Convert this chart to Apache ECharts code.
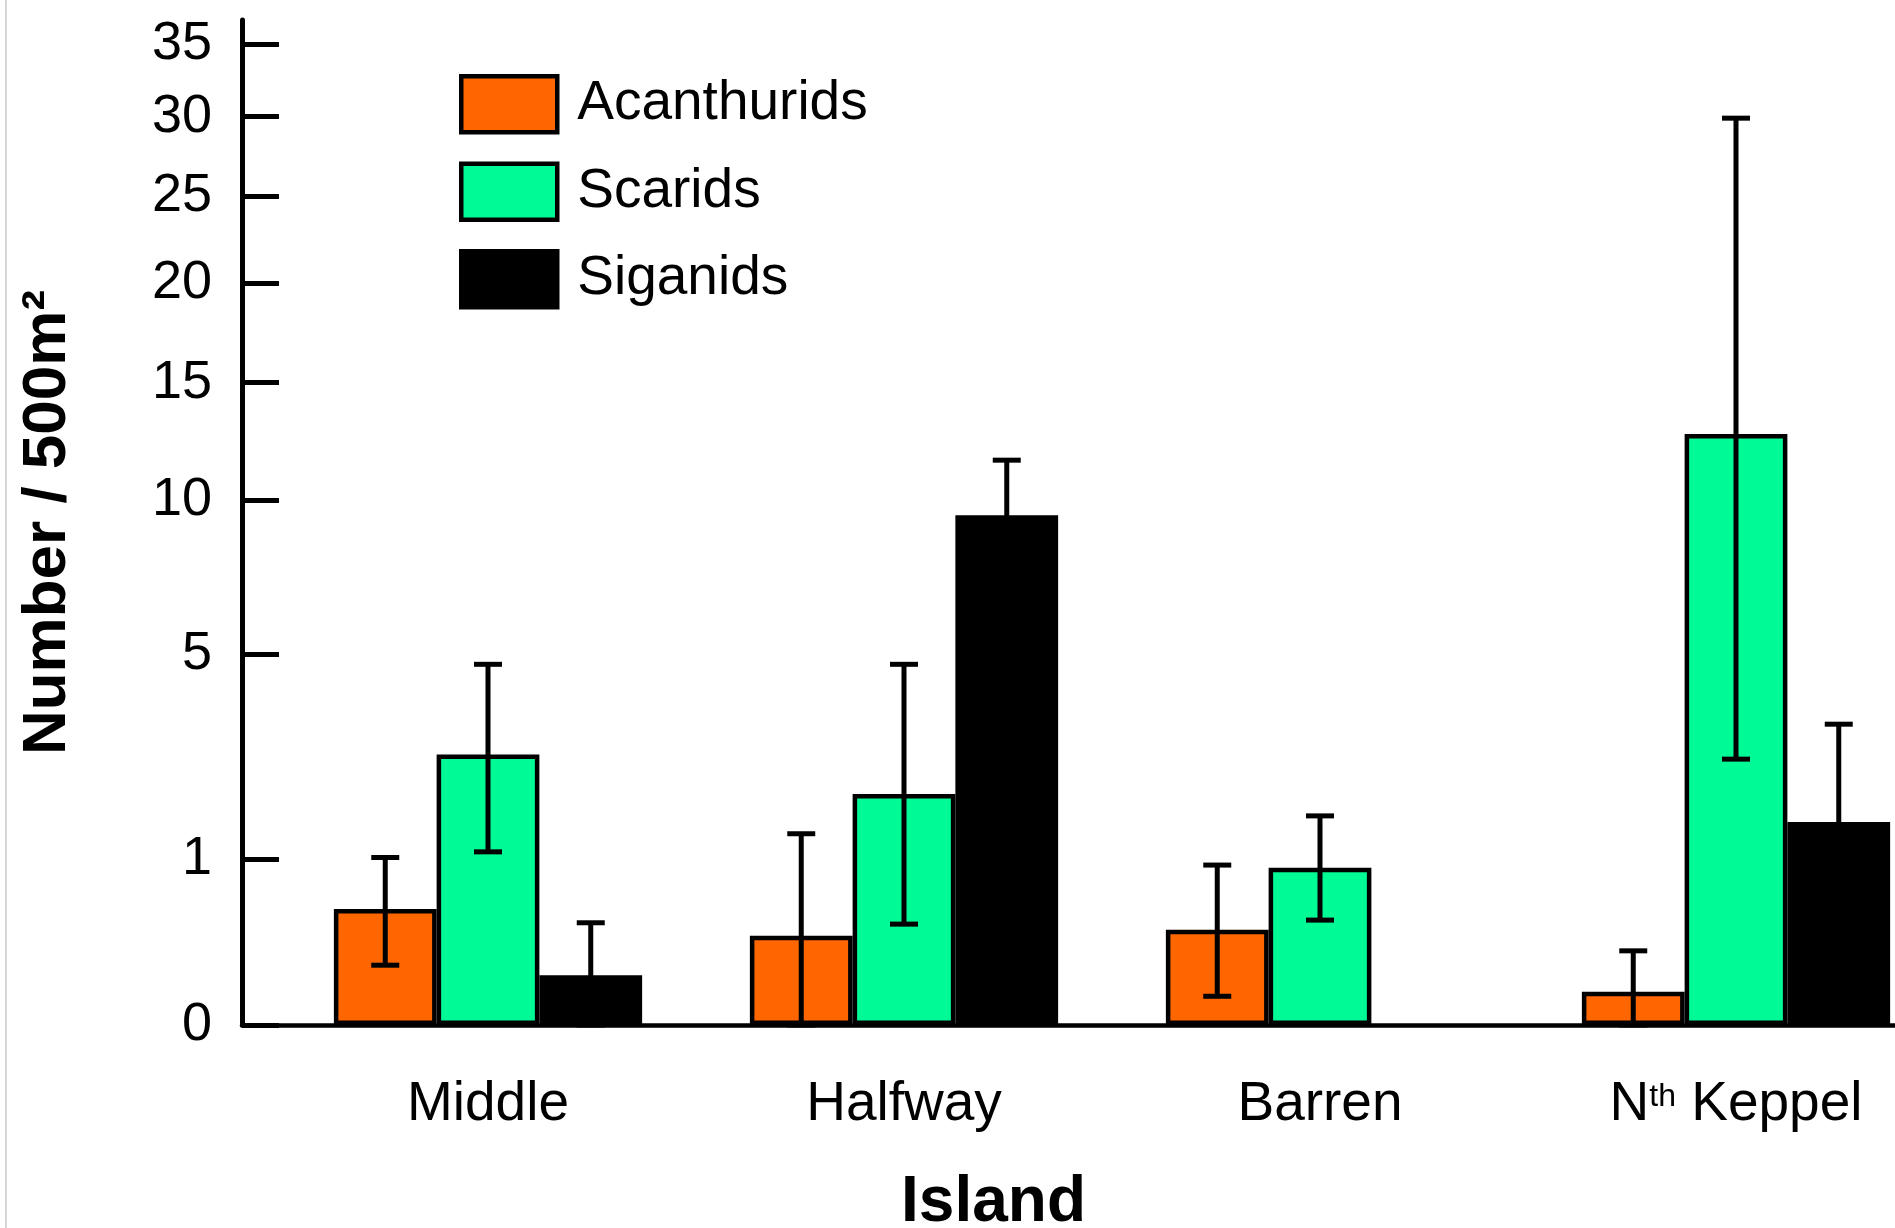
<!DOCTYPE html>
<html>
<head>
<meta charset="utf-8">
<script src="https://cdn.jsdelivr.net/npm/echarts@6/dist/echarts.min.js"></script>
<style>
html,body{margin:0;padding:0;background:#fff;}
#chart{width:1895px;height:1228px;}
</style>
</head>
<body>
<div id="chart"></div>
<script>
// ---- data (raw units, Number / 500m^2) ----
var islands = ['Middle', 'Halfway', 'Barren', 'Nth Keppel'];
var seriesNames = ['Acanthurids', 'Scarids', 'Siganids'];
var acanthurids   = [0.49, 0.29, 0.33, 0.04];
var acanthuridsHi = [1.02, 1.33, 0.93, 0.20];
var acanthuridsLo = [0.13, 0.00, 0.03, 0.00];
var scarids       = [2.66, 1.94, 0.90, 12.7];
var scaridsHi     = [4.73, 4.73, 1.59, 29.9];
var scaridsLo     = [1.09, 0.37, 0.40, 2.57];
var siganids      = [0.09, 9.45, 0, 1.50];
var siganidsHi    = [0.38, 11.6, null, 3.29];
var siganidsLo    = [0.00, 7.5, null, 0.41];
var yTicks = [0, 1, 5, 10, 15, 20, 25, 30, 35];
var colors = ['#ff6600', '#00fa96', '#000000'];

// square-root scale transform
function tr(v) { return v == null ? null : Math.sqrt(v); }
var Y_MAX = 6.06;
var FONT = '"Liberation Sans", Arial, Helvetica, sans-serif';
var GAP = 0.259;

var means = [acanthurids, scarids, siganids];
var his = [acanthuridsHi, scaridsHi, siganidsHi];
var los = [acanthuridsLo, scaridsLo, siganidsLo];

var series = [];
means.forEach(function (m, k) {
  series.push({
    name: seriesNames[k],
    type: 'bar',
    xAxisIndex: 0, yAxisIndex: 0,
    barGap: '0%',
    barCategoryGap: (GAP * 100) + '%',
    itemStyle: { color: colors[k], borderColor: '#000', borderWidth: 4.5 },
    data: m.map(function (v) {
      return v === 0 ? { value: 0, itemStyle: { borderWidth: 0 } } : tr(v);
    }),
    z: 2
  });
});
means.forEach(function (m, k) {
  var d = [];
  for (var i = 0; i < islands.length; i++) {
    if (his[k][i] != null) d.push([i, tr(los[k][i]), tr(his[k][i])]);
  }
  series.push({
    name: 'err' + k,
    type: 'custom',
    xAxisIndex: 0, yAxisIndex: 0,
    z: 5,
    renderItem: function (params, api) {
      var idx = api.value(0);
      var lo = api.coord([idx, api.value(1)]);
      var hi = api.coord([idx, api.value(2)]);
      var band = api.size([1, 0])[0];
      var bw = band * (1 - GAP) / 3;
      var x = lo[0] + (k - 1) * bw;
      var cap = 14;
      var st = { stroke: '#000', lineWidth: 5 };
      return {
        type: 'group',
        children: [
          { type: 'line', shape: { x1: x, y1: lo[1], x2: x, y2: hi[1] }, style: st },
          { type: 'line', shape: { x1: x - cap, y1: hi[1], x2: x + cap, y2: hi[1] }, style: st },
          { type: 'line', shape: { x1: x - cap, y1: lo[1], x2: x + cap, y2: lo[1] }, style: st }
        ]
      };
    },
    data: d
  });
});

var chart = echarts.init(document.getElementById('chart'));
chart.setOption({
  backgroundColor: '#fff',
  animation: false,
  textStyle: { fontFamily: FONT, color: '#000' },
  graphic: [{
    type: 'line', shape: { x1: 6, y1: 0, x2: 6, y2: 1228 },
    style: { stroke: '#c8c8c8', lineWidth: 1.5 }
  }],
  legend: {
    data: seriesNames.map(function (n, k) {
      return { name: n, itemStyle: { color: colors[k], borderColor: '#000', borderWidth: 4.5 } };
    }),
    orient: 'vertical',
    left: 454, top: 69,
    itemWidth: 96, itemHeight: 56, itemGap: 27,
    icon: 'rect',
    textStyle: { fontSize: 55, color: '#000', fontFamily: FONT, padding: [0, 0, 0, 15], lineHeight: 56 }
  },
  grid: [
    { left: 280, right: -49, top: 20, bottom: 203, outerBoundsMode: 'none', containLabel: false },
    { left: 242, right: 0, top: 20, bottom: 203, outerBoundsMode: 'none', containLabel: false }
  ],
  xAxis: [{
    type: 'category', gridIndex: 0, data: islands,
    axisLine: { show: false }, axisTick: { show: false },
    axisLabel: {
      margin: 52, interval: 0,
      formatter: function (v) {
        if (v.indexOf('Nth') === 0) return '{a|N}{s|th}{a|' + v.slice(3) + '}';
        return '{a|' + v + '}';
      },
      rich: {
        a: { fontSize: 55, fontFamily: FONT, color: '#000' },
        s: { fontSize: 32, fontFamily: FONT, color: '#000', verticalAlign: 'top', padding: [4, 0, 0, 0] }
      }
    }
  }, {
    type: 'value', gridIndex: 1, min: 0, max: 1,
    axisLine: { show: true, lineStyle: { color: '#000', width: 4.5 } },
    axisTick: { show: false }, axisLabel: { show: false }, splitLine: { show: false },
    name: 'Island', nameLocation: 'middle', nameGap: 146,
    nameTextStyle: { fontSize: 64, fontWeight: 'bold', color: '#000', fontFamily: FONT, padding: [0, 150, 0, 0] }
  }],
  yAxis: [{
    type: 'value', gridIndex: 0, min: 0, max: Y_MAX, show: false,
    splitLine: { show: false }
  }, {
    type: 'value', gridIndex: 1, min: 0, max: Y_MAX,
    axisLine: { show: true, lineStyle: { color: '#000', width: 5 } },
    axisTick: {
      show: true, inside: true, length: 37,
      customValues: yTicks.map(tr),
      lineStyle: { color: '#000', width: 5 }
    },
    axisLabel: {
      customValues: yTicks.map(tr),
      margin: 30, fontSize: 54, color: '#000', fontFamily: FONT,
      formatter: function (v) { return String(Math.round(v * v)); }
    },
    splitLine: { show: false },
    name: 'Number / 500m²', nameLocation: 'middle', nameGap: 163,
    nameTextStyle: { fontSize: 62, fontWeight: 'bold', color: '#000', fontFamily: FONT }
  }],
  series: series
});
</script>
</body>
</html>
